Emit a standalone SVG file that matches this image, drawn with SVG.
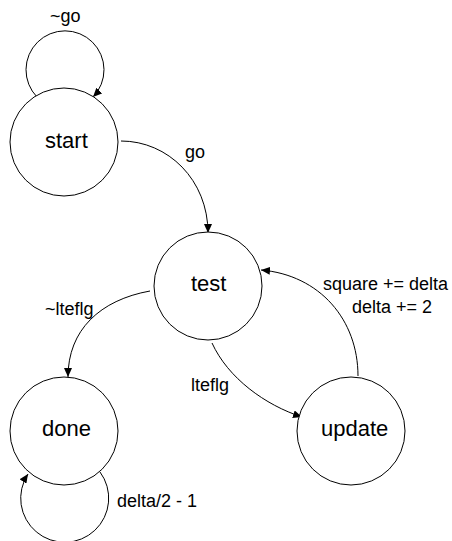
<svg xmlns="http://www.w3.org/2000/svg" width="452" height="541" viewBox="0 0 452 541">
<style>
.node{fill:#fff;stroke:#000;stroke-width:1}
.edge{fill:none;stroke:#000;stroke-width:1;marker-end:url(#arr)}
.nl{font-family:"Liberation Sans",Arial,sans-serif;font-size:22px;fill:#000}
.el{font-family:"Liberation Sans",Arial,sans-serif;font-size:18px;fill:#000}
</style>
<defs>
<marker id="arr" markerUnits="userSpaceOnUse" markerWidth="10" markerHeight="8" refX="9" refY="4" orient="auto">
<path d="M0,0 L9,4 L0,8 Z" fill="#000"/>
</marker>
</defs>
<rect width="452" height="541" fill="#fff"/>
<g id="connectors">
<path class="edge" d="M37,97 A39,39 0 1 1 93,97"/>
<path class="edge" d="M121,141 C168,141 208,180 208,233"/>
<path class="edge" d="M150,291 C100,300 68,330 68,377"/>
<path class="edge" d="M212,343 C228,378 265,405 302,417"/>
<path class="edge" d="M358,376 C358,320 320,275 261,270"/>
<path class="edge" d="M100,472 A44,44 0 1 1 28,474"/>
<text class="el" x="50" y="22">~go</text>
<text class="el" x="185" y="158">go</text>
<text class="el" x="45" y="315">~lteflg</text>
<text class="el" x="191" y="391">lteflg</text>
<text class="el" x="323" y="290">square += delta</text>
<text class="el" x="352" y="313">delta += 2</text>
<text class="el" x="117" y="507">delta/2 - 1</text>
</g>
<g id="start"><circle class="node" cx="64" cy="142" r="54"/><text class="nl" x="45" y="148">start</text></g>
<g id="test"><circle class="node" cx="208" cy="286" r="54"/><text class="nl" x="191" y="291">test</text></g>
<g id="done"><circle class="node" cx="64" cy="431" r="54"/><text class="nl" x="42" y="436">done</text></g>
<g id="update"><circle class="node" cx="351" cy="431" r="54"/><text class="nl" x="321" y="436">update</text></g>
</svg>
